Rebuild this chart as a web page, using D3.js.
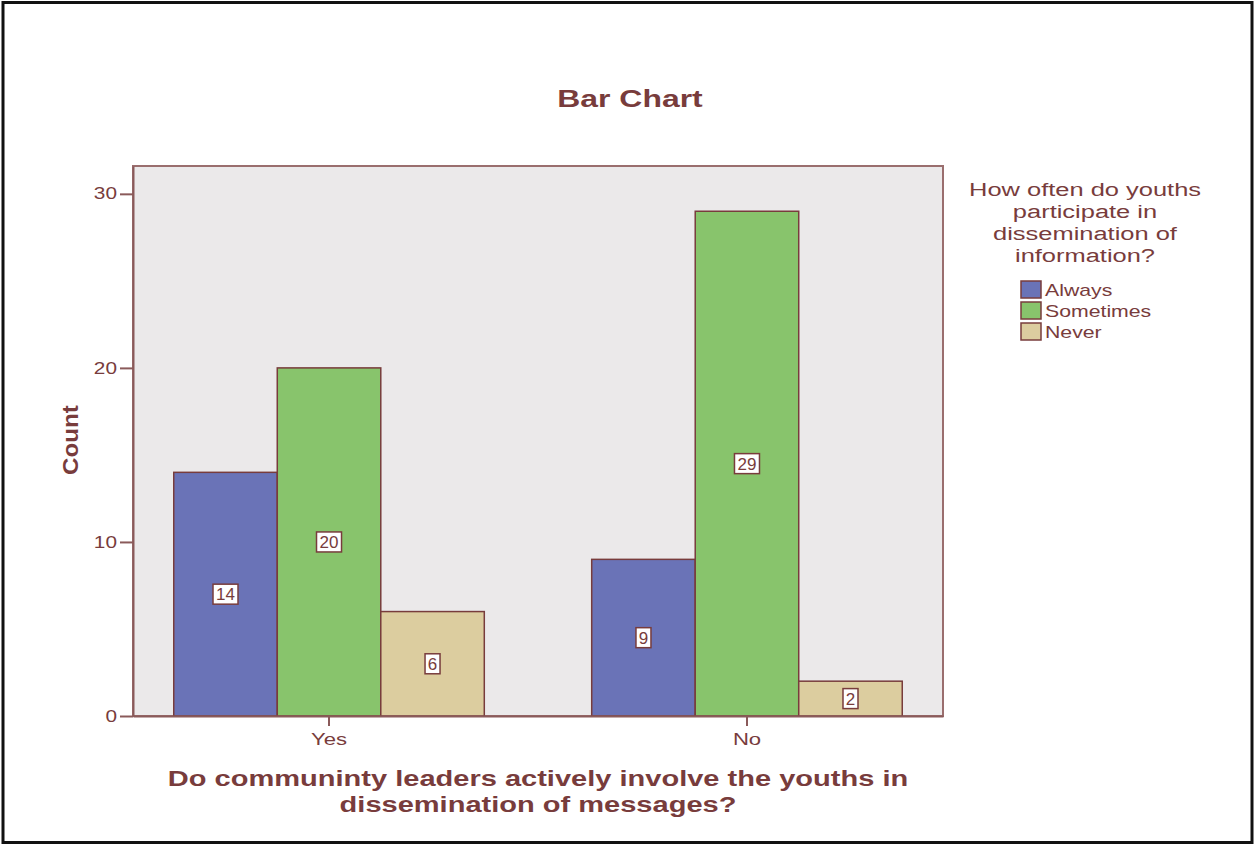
<!DOCTYPE html>
<html lang="en">
<head>
<meta charset="UTF-8">
<title>Bar Chart</title>
<script src="https://d3js.org/d3.v7.min.js"></script>
<style>
  body { margin: 0; background: #ffffff; }
  text { font-family: "Liberation Sans", Arial, sans-serif; fill: #783c3c; }
</style>
</head>
<body>
<div id="chart"></div>
<script>

// data
var categories = ["Yes", "No"];
var series = ["Always", "Sometimes", "Never"];
var always = [14, 9];
var sometimes = [20, 29];
var never = [6, 2];
var yTicks = [0, 10, 20, 30];

var colors = { Always: "#6a73b7", Sometimes: "#88c46c", Never: "#dccd9f" };
var ink = "#783c3c";

var W = 1254, H = 845;
var margin = {top: 166, right: 311, bottom: 129, left: 133},
    width = W - margin.left - margin.right,
    height = H - margin.top - margin.bottom;

// SPSS output text looks horizontally stretched, so widen the glyphs
function stretchText(sel, x, y, sx) {
  sel.attr("x", 0).attr("y", 0)
     .attr("transform", "translate(" + x + "," + y + ") scale(" + sx + ",1)");
}

var root = d3.select("#chart").append("svg")
    .attr("width", W)
    .attr("height", H);

// outer black frame
root.append("rect")
  .attr("x", 3).attr("y", 2.5)
  .attr("width", W - 5).attr("height", H - 5)
  .attr("fill", "#fff")
  .attr("stroke", "#111")
  .attr("stroke-width", 3);

var svg = root.append("g")
  .attr("transform", "translate(" + margin.left + "," + margin.top + ")");

var rows = categories.map(function(c, i) {
  return { cat: c, Always: always[i], Sometimes: sometimes[i], Never: never[i] };
});

var x0 = d3.scaleBand()
  .domain(categories)
  .range([0, width])
  .paddingInner(0.257)
  .paddingOuter(0.0975);

var x1 = d3.scaleBand()
  .domain(series)
  .range([0, x0.bandwidth()]);

var y = d3.scaleLinear()
  .domain([0, 31.6])
  .range([height, 0]);

// plot background
svg.append("rect")
  .attr("width", width)
  .attr("height", height)
  .attr("fill", "#ebe9ea")
  .attr("stroke", "#9a6e6e")
  .attr("stroke-width", 2);

// bars
var groups = svg.selectAll(".grp")
  .data(rows)
  .enter().append("g")
  .attr("transform", function(d) { return "translate(" + x0(d.cat) + ",0)"; });

var cells = groups.selectAll("g.cell")
  .data(function(d) { return series.map(function(s) { return { key: s, value: d[s] }; }); })
  .enter().append("g").attr("class", "cell");

cells.append("rect")
  .attr("x", function(d) { return x1(d.key); })
  .attr("y", function(d) { return y(d.value); })
  .attr("width", x1.bandwidth())
  .attr("height", function(d) { return height - y(d.value); })
  .attr("fill", function(d) { return colors[d.key]; })
  .attr("stroke", ink)
  .attr("stroke-width", 1.5);

// value labels in white boxes
cells.each(function(d) {
  var g = d3.select(this);
  var cx = x1(d.key) + x1.bandwidth() / 2;
  var cy = y(d.value / 2);
  var t = String(d.value);
  var bw = t.length * 10 + 5;
  g.append("rect")
    .attr("x", cx - bw / 2).attr("y", cy - 10)
    .attr("width", bw).attr("height", 20)
    .attr("fill", "#fff")
    .attr("stroke", ink)
    .attr("stroke-width", 1.5);
  g.append("text")
    .attr("x", cx).attr("y", cy + 6)
    .attr("text-anchor", "middle")
    .style("font-size", "17px")
    .text(t);
});

// Y axis
var yAxis = svg.append("g")
  .call(d3.axisLeft(y).tickValues(yTicks).tickSize(13).tickSizeOuter(0).tickPadding(3));
yAxis.select(".domain").attr("stroke", "#8a5a5a").attr("stroke-width", 2);
yAxis.selectAll(".tick line").attr("stroke", "#8a5a5a").attr("stroke-width", 2);
yAxis.selectAll(".tick text")
  .style("font-size", "16px")
  .style("font-family", "'Liberation Sans', Arial, sans-serif")
  .attr("fill", ink)
  .each(function() { stretchText(d3.select(this), -16, 0, 1.3); });

// X axis
var xAxis = svg.append("g")
  .attr("transform", "translate(0," + height + ")")
  .call(d3.axisBottom(x0).tickSize(10).tickPadding(8).tickSizeOuter(0));
xAxis.select(".domain").attr("stroke", "#8a5a5a").attr("stroke-width", 2);
xAxis.selectAll(".tick line").attr("stroke", "#8a5a5a").attr("stroke-width", 2);
xAxis.selectAll(".tick text")
  .style("font-size", "16px")
  .style("font-family", "'Liberation Sans', Arial, sans-serif")
  .attr("fill", ink)
  .each(function() { stretchText(d3.select(this), 0, 18, 1.38); });

// titles
root.append("text")
  .attr("text-anchor", "middle")
  .style("font-size", "24px").style("font-weight", "bold")
  .text("Bar Chart")
  .call(stretchText, 630, 107, 1.33);

root.append("text")
  .attr("transform", "translate(78,440) rotate(-90) scale(1.1,1)")
  .attr("text-anchor", "middle")
  .style("font-size", "22px").style("font-weight", "bold")
  .text("Count");

var xTitle = ["Do communinty leaders actively involve the youths in", "dissemination of messages?"];
root.selectAll(".xt")
  .data(xTitle)
  .enter().append("text")
  .attr("text-anchor", "middle")
  .style("font-size", "22px").style("font-weight", "bold")
  .text(function(d) { return d; })
  .each(function(d, i) { stretchText(d3.select(this), 538, 786 + i * 26, 1.32); });

// legend
var legendTitle = ["How often do youths", "participate in", "dissemination of", "information?"];
root.selectAll(".lt")
  .data(legendTitle)
  .enter().append("text")
  .attr("text-anchor", "middle")
  .style("font-size", "19px")
  .text(function(d) { return d; })
  .each(function(d, i) { stretchText(d3.select(this), 1085, 196 + i * 22, 1.34); });

var leg = root.selectAll(".leg")
  .data(series)
  .enter().append("g")
  .attr("transform", function(d, i) { return "translate(1021," + (281 + i * 21) + ")"; });
leg.append("rect")
  .attr("width", 20).attr("height", 17)
  .attr("fill", function(d) { return colors[d]; })
  .attr("stroke", ink)
  .attr("stroke-width", 1.5);
leg.append("text")
  .style("font-size", "17px")
  .text(function(d) { return d; })
  .each(function() { stretchText(d3.select(this), 24, 15, 1.25); });

</script>
</body>
</html>
